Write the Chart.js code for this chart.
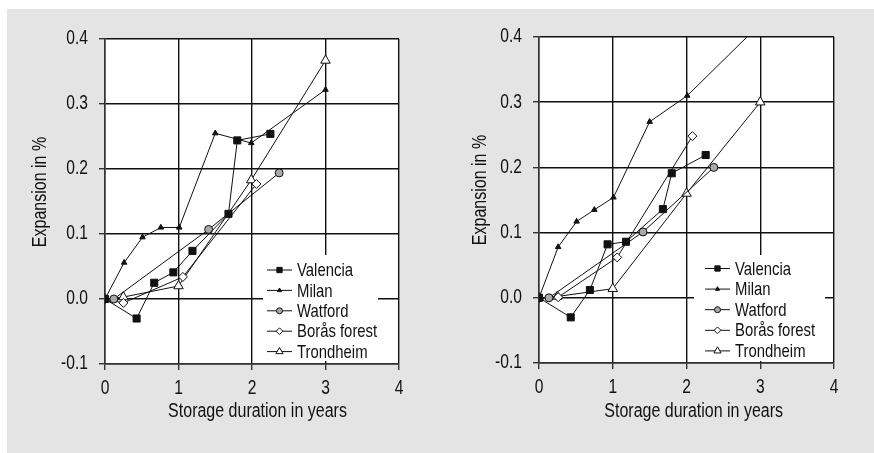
<!DOCTYPE html>
<html lang="en">
<head>
<meta charset="UTF-8">
<title>Expansion vs storage duration</title>
<style>
    html, body { margin: 0; padding: 0; background: #fff; }
    #panel { position: absolute; left: 7px; top: 9px; width: 867px; height: 444px; background: #e3e4e3; }
    .box { position: absolute; top: 0; width: 437px; height: 453px; }
    #left { left: 0; }
    #right { left: 437px; }
</style>
<script src="https://cdn.jsdelivr.net/npm/chart.js@4/dist/chart.umd.min.js"></script>
</head>
<body>
<div id="panel"></div>
<div class="box" id="left"><canvas id="c1" width="437" height="453"></canvas></div>
<div class="box" id="right"><canvas id="c2" width="437" height="453"></canvas></div>
<script>
// axis ticks
const xTicks = [0, 1, 2, 3, 4];
const xTickLabels = ['0', '1', '2', '3', '4'];
const yTicks = [-0.1, 0, 0.1, 0.2, 0.3, 0.4];
const yTickLabels = ['-0.1', '0.0', '0.1', '0.2', '0.3', '0.4'];

const seriesNames = ['Valencia', 'Milan', 'Watford', 'Borås forest', 'Trondheim'];

// left chart  [years, expansion %]
const valenciaL  = [[0, 0], [0.43, -0.03], [0.67, 0.025], [0.93, 0.041], [1.19, 0.074], [1.68, 0.131], [1.80, 0.244], [2.25, 0.254]];
const milanL     = [[0, 0], [0.26, 0.056], [0.51, 0.095], [0.76, 0.110], [1.01, 0.110], [1.50, 0.255], [1.99, 0.240], [3.0, 0.322]];
const watfordL   = [[0, 0], [0.12, 0.0], [1.41, 0.107], [2.37, 0.194]];
const borasL     = [[0, 0], [0.25, -0.006], [1.06, 0.034], [2.06, 0.177]];
const trondheimL = [[0, 0], [0.25, 0.003], [1.0, 0.020], [1.99, 0.183], [3.0, 0.367]];

// right chart
const valenciaR  = [[0, 0], [0.43, -0.03], [0.69, 0.012], [0.93, 0.082], [1.18, 0.086], [1.68, 0.136], [1.80, 0.191], [2.26, 0.219]];
const milanR     = [[0, 0], [0.26, 0.078], [0.51, 0.117], [0.75, 0.135], [1.01, 0.154], [1.50, 0.270], [2.01, 0.310], [3.0, 0.420]];
const watfordR   = [[0, 0], [0.135, 0.0], [1.41, 0.101], [2.37, 0.200]];
const borasR     = [[0, 0], [0.26, 0.001], [1.06, 0.062], [2.08, 0.248]];
const trondheimR = [[0, 0], [0.25, 0.002], [1.0, 0.014], [2.0, 0.160], [3.0, 0.300]];

// no condensed face installed, so squeeze Liberation Sans sideways
const FONT = "'Liberation Sans', Arial, sans-serif";
const SQUEEZE = 0.8;
const INK = '#111';

// marker look per series
const markers = [
    { pointStyle: 'rect',     radius: 5,   fill: '#111' },
    { pointStyle: 'triangle', radius: 3.2, fill: '#111' },
    { pointStyle: 'circle',   radius: 4,   fill: '#a9a9a9' },
    { pointStyle: 'rectRot',  radius: 4.5, fill: '#fff' },
    { pointStyle: 'triangle', radius: 5.5, fill: '#fff' }
];

function narrowText(ctx, text, x, y, size, align, rot) {
    ctx.save();
    ctx.font = size + 'px ' + FONT;
    ctx.fillStyle = INK;
    ctx.textAlign = align;
    ctx.textBaseline = 'middle';
    ctx.translate(x, y);
    if (rot) ctx.rotate(rot);
    ctx.scale(SQUEEZE, 1);
    ctx.fillText(text, 0, 0);
    ctx.restore();
}

const decor = {
    id: 'decor',
    beforeDraw(chart, args, o) {
        const { ctx, chartArea: a } = chart;
        ctx.save();
        ctx.fillStyle = '#fff';
        ctx.fillRect(a.left, a.top, a.right - a.left, a.bottom - a.top);
        ctx.restore();
    },
    beforeDatasetsDraw(chart, args, o) {
        const ctx = chart.ctx;
        const L = o.legend;
        ctx.save();
        ctx.fillStyle = '#fff';
        ctx.fillRect(L.x, L.y, L.w, L.h);
        seriesNames.forEach((name, i) => {
            const y = L.rowY + i * L.rowGap;
            ctx.strokeStyle = '#111';
            ctx.lineWidth = 1;
            ctx.beginPath();
            ctx.moveTo(L.lineX, y);
            ctx.lineTo(L.lineX + 25, y);
            ctx.stroke();
            const m = markers[i];
            ctx.fillStyle = m.fill;
            Chart.helpers.drawPoint(ctx, { pointStyle: m.pointStyle, radius: m.radius * 0.75, borderWidth: 1, rotation: 0 }, L.lineX + 12.5, y);
            narrowText(ctx, name, L.lineX + 30, y + 1, 18.6, 'left');
        });
        ctx.restore();
    },
    afterDraw(chart, args, o) {
        const ctx = chart.ctx;
        const sx = chart.scales.x, sy = chart.scales.y;
        xTicks.forEach((v, i) => narrowText(ctx, xTickLabels[i], sx.getPixelForValue(v), sx.top + 25, 19.5, 'center'));
        yTicks.forEach((v, i) => narrowText(ctx, yTickLabels[i], sx.left - 17, sy.getPixelForValue(v), 19.5, 'right'));
        narrowText(ctx, 'Storage duration in years', o.xTitle[0], o.xTitle[1], 20, 'center');
        narrowText(ctx, 'Expansion in %', o.yTitle[0], o.yTitle[1], 20, 'center', -Math.PI / 2);
    }
};

function makeChart(id, series, geo) {
    const datasets = series.map((pts, i) => ({
        label: seriesNames[i],
        data: pts.map(([x, y]) => ({ x, y })),
        showLine: true,
        borderColor: '#111',
        borderWidth: 1,
        pointStyle: markers[i].pointStyle,
        pointRadius: markers[i].radius,
        pointBackgroundColor: markers[i].fill,
        pointBorderColor: '#111',
        pointBorderWidth: 1
    }));
    return new Chart(document.getElementById(id), {
        type: 'scatter',
        data: { datasets },
        plugins: [decor],
        options: {
            responsive: false,
            animation: false,
            layout: { padding: { top: geo.top, right: geo.right, left: 0, bottom: 0 } },
            plugins: {
                legend: { display: false },
                tooltip: { enabled: false },
                decor: geo.decor
            },
            scales: {
                x: {
                    type: 'linear', min: 0, max: 4,
                    afterBuildTicks: s => { s.ticks = xTicks.map(v => ({ value: v })); },
                    afterFit: s => { s.height = geo.xH; },
                    ticks: { display: false },
                    grid: { color: '#111', lineWidth: 1.4, tickLength: 6, tickColor: '#333' },
                    border: { color: '#333', width: 1.5 }
                },
                y: {
                    min: -0.1, max: 0.4,
                    afterBuildTicks: s => { s.ticks = yTicks.map(v => ({ value: v })); },
                    afterFit: s => { s.width = geo.yW; },
                    ticks: { display: false },
                    grid: { color: '#111', lineWidth: 1.4, tickLength: 6, tickColor: '#333' },
                    border: { color: '#333', width: 1.5 }
                }
            }
        }
    });
}

makeChart('c1', [valenciaL, milanL, watfordL, borasL, trondheimL], {
    top: 39, right: 38, xH: 89, yW: 105,
    decor: {
        legend: { x: 263, y: 255, w: 115, h: 106, lineX: 267, rowY: 270, rowGap: 20.4 },
        xTitle: [257.5, 411.5], yTitle: [40, 192]
    }
});

makeChart('c2', [valenciaR, milanR, watfordR, borasR, trondheimR], {
    top: 37, right: 40, xH: 90, yW: 102,
    decor: {
        legend: { x: 257, y: 255, w: 131, h: 106, lineX: 268, rowY: 268.5, rowGap: 20.6 },
        xTitle: [256.7, 411.5], yTitle: [43, 190]
    }
});
</script>
</body>
</html>
